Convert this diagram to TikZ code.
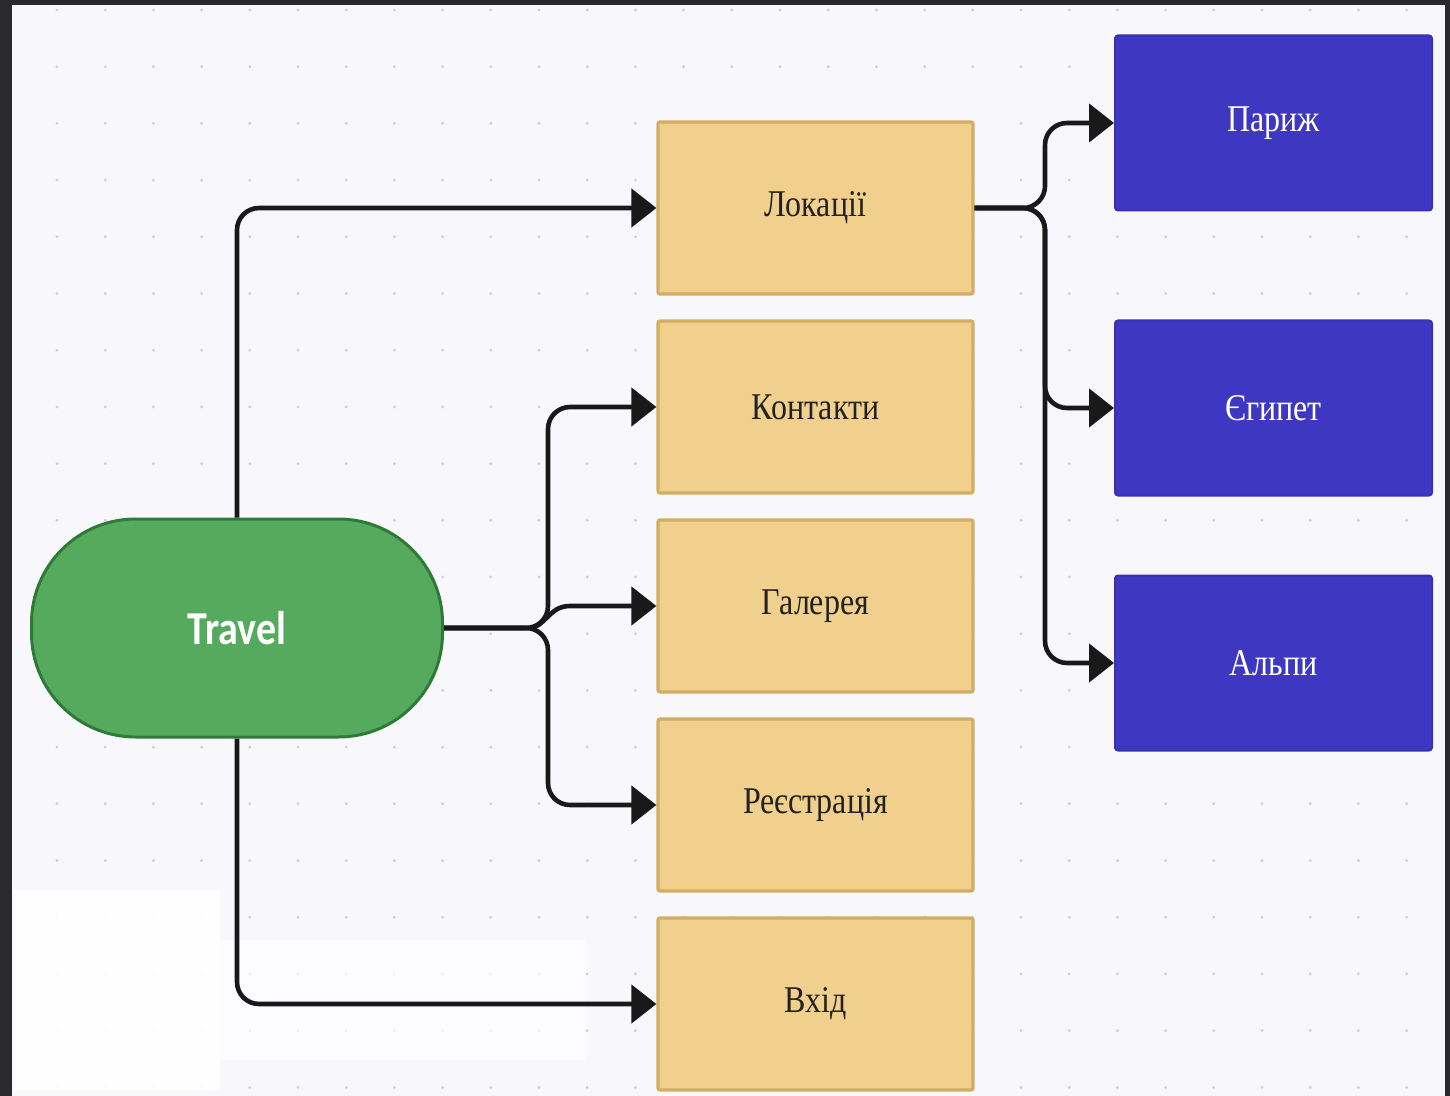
\documentclass[tikz,border=0pt]{standalone}
\usepackage{fontspec}
\setmainfont{Liberation Serif}
\newfontfamily\travfont{Carlito}
\usetikzlibrary{arrows.meta}
\definecolor{framec}{HTML}{2A2A2E}
\definecolor{bgc}{HTML}{F8F8FC}
\definecolor{dotc}{HTML}{CFCFD6}
\definecolor{yfill}{HTML}{F0D08C}
\definecolor{ydraw}{HTML}{D2AE62}
\definecolor{bfill}{HTML}{3E37C1}
\definecolor{bdraw}{HTML}{3832B3}
\definecolor{gfill}{HTML}{55AA5D}
\definecolor{gdraw}{HTML}{2F7A36}
\definecolor{txtc}{HTML}{222222}
\newcommand{\tall}[1]{\scalebox{1}[1.18]{#1}}
\tikzset{
  ybox/.style={draw=ydraw, fill=yfill, line width=1.6pt, rounded corners=1pt,
    minimum width=157.5pt, minimum height=86pt, inner sep=0pt,
    text=txtc, font=\fontsize{16}{19}\selectfont},
  bbox/.style={draw=bdraw, fill=bfill, line width=1pt, rounded corners=1.5pt,
    minimum width=158.5pt, minimum height=87.5pt, inner sep=0pt,
    text=white, font=\fontsize{16}{19}\selectfont},
  startnode/.style={draw=gdraw, fill=gfill, line width=1.5pt, rounded corners=52pt,
    minimum width=205.5pt, minimum height=109pt, inner sep=0pt,
    text=white, font=\travfont\bfseries\fontsize{20}{24}\selectfont},
  conn/.style={line width=2.3pt, black!90, rounded corners=11pt,
    -{Triangle[length=12.5pt,width=19pt]}},
}
\begin{document}
\begin{tikzpicture}[x=0.5pt,y=-0.5pt]
\useasboundingbox (0,0) rectangle (1450,1096);
\fill[framec] (0,0) rectangle (1450,1096);
\fill[bgc] (12,5) rectangle (1445,1096);
% dotted grid
\foreach \i in {0,...,28} {
  \foreach \j in {0,...,19} {
    \fill[dotc] ({57+48.2*\i},{10+56.7*\j}) circle (1.6);
  }
}
% white patch
\fill[white, opacity=0.9] (14,890) rectangle (220,1090);
\fill[white, opacity=0.7] (220,940) rectangle (585,1060);

% nodes
\node[startnode] (travel) at (237,628) {\tall{Travel}};
\node[ybox] (lok) at (815.5,208) {\tall{Локації}};
\node[ybox] (kont) at (815.5,407) {\tall{Контакти}};
\node[ybox] (gal) at (815.5,606) {\tall{Галерея}};
\node[ybox] (reg) at (815.5,805) {\tall{Реєстрація}};
\node[ybox] (vhid) at (815.5,1004) {\tall{Вхід}};
\node[bbox] (paris) at (1273.5,123) {\tall{Париж}};
\node[bbox] (egypt) at (1273.5,408) {\tall{Єгипет}};
\node[bbox] (alps) at (1273.5,663) {\tall{Альпи}};

\coordinate (tj) at (548,628);
\coordinate (gj) at (528,628);
\coordinate (lj) at (1045,208);

% connectors
\draw[conn] (travel.north) |- (lok.west);
\draw[conn] (travel.south) |- (vhid.west);
\draw[conn] (travel.east) -- (tj) |- (kont.west);
\draw[conn] (travel.east) -- (tj) |- (reg.west);
\draw[conn, rounded corners=0pt] (travel.east) -- (gj) .. controls (546,628) and (548,606) .. (570,606) -- (gal.west);
\draw[conn] (lok.east) -- (lj) |- (paris.west);
\draw[conn] (lok.east) -- (lj) |- (egypt.west);
\draw[conn] (lok.east) -- (lj) |- (alps.west);
\end{tikzpicture}
\end{document}
